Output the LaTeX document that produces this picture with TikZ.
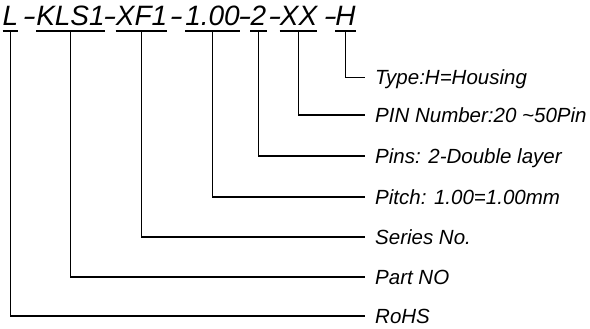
\documentclass[tikz,border=0pt]{standalone}
\usepackage{fontspec}
\setmainfont{Liberation Sans}
\begin{document}
\begin{tikzpicture}[x=1pt,y=-1pt,
  seg/.style={anchor=south,inner xsep=0pt,inner ysep=5pt,text height=19pt,text depth=0pt,
    font=\itshape\fontsize{28}{30}\selectfont},
  hyph/.style={anchor=base,inner sep=0pt,xscale=1.5,font=\itshape\fontsize{27}{30}\selectfont},
  lab/.style={anchor=west,inner xsep=10pt,inner ysep=0pt,text height=15pt,text depth=0pt,
    font=\itshape\fontsize{20.5}{24}\selectfont},
  conn/.style={line width=1.3pt},
  uline/.style={line width=1.3pt}]
\useasboundingbox (0,0) rectangle (590,329);
% top segments
\node[seg,minimum width=14pt] (sL) at (10.5,31) {L};
\node[seg,minimum width=65pt] (sK) at (70.5,31) {KLS1};
\node[seg,minimum width=51pt] (sX) at (141.5,31) {XF1};
\node[seg,minimum width=51pt] (sP) at (212.5,31) {1.00};
\node[seg,minimum width=16pt] (sT) at (258.5,31) {2};
\node[seg,minimum width=33pt] (sN) at (298.5,31) {XX};
\node[seg,minimum width=15pt] (sH) at (345.5,31) {H};
\node[hyph] (d1) at (29,26) {-};
\node[hyph] (d2) at (109.5,26) {-};
\node[hyph] (d3) at (176,26) {-};
\node[hyph] (d4) at (244.5,26) {-};
\node[hyph] (d5) at (274.5,26) {-};
\node[hyph] (d6) at (330,26) {-};
\foreach \s in {sL,sK,sX,sP,sT,sN,sH}
  \draw[uline] (\s.south west) -- (\s.south east);
% labels
\node[lab] (lH) at (365,77.5) {Type:H=Housing};
\node[lab] (lN) at (365,115) {PIN Number:20 \textasciitilde50Pin};
\node[lab] (lT) at (365,156) {Pins: 2-Double layer};
\node[lab] (lP) at (365,197) {Pitch: 1.00=1.00mm};
\node[lab] (lX) at (365,237) {Series No.};
\node[lab] (lK) at (365,277) {Part NO};
\node[lab] (lL) at (365,316) {RoHS};
% connectors
\draw[conn] (sH.south) |- (lH.west);
\draw[conn] (sN.south) |- (lN.west);
\draw[conn] (sT.south) |- (lT.west);
\draw[conn] (sP.south) |- (lP.west);
\draw[conn] (sX.south) |- (lX.west);
\draw[conn] (sK.south) |- (lK.west);
\draw[conn] (sL.south) |- (lL.west);
\end{tikzpicture}
\end{document}
